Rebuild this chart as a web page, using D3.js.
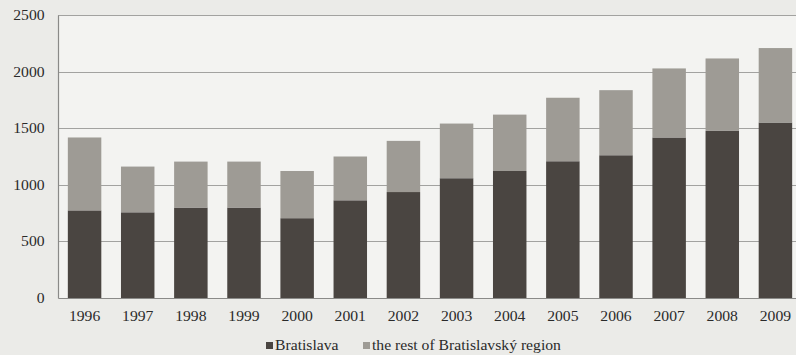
<!DOCTYPE html>
<html>
<head>
<meta charset="utf-8">
<script src="https://cdn.jsdelivr.net/npm/d3@7/dist/d3.min.js"></script>
<style>
  html, body { margin: 0; padding: 0; background: #ebebe8; }
  svg { display: block; }
  text { font-family: "Liberation Serif", "Times New Roman", serif; fill: #2a2a2a; }
</style>
</head>
<body>
<svg id="chart" width="796" height="355"></svg>
<script>
// Housing completions by year, split between the city and the rest of the region
const years = ["1996","1997","1998","1999","2000","2001","2002","2003","2004","2005","2006","2007","2008","2009"];
const bratislava = [774, 757, 799, 799, 705, 863, 936, 1058, 1122, 1208, 1261, 1418, 1476, 1550];
const totals     = [1418, 1161, 1205, 1205, 1122, 1250, 1388, 1541, 1620, 1769, 1836, 2028, 2116, 2208];
const restOfRegion = totals.map((t, i) => t - bratislava[i]);
const seriesNames = ["Bratislava", "the rest of Bratislavský region"];
const yTicks = [0, 500, 1000, 1500, 2000, 2500];

const colors = ["#4a4541", "#9e9b95"];
const sx = 1.12;               // horizontal stretch of the serif lettering
const fontSize = 14;

const svg = d3.select("#chart");
const margin = { left: 58, top: 15, bottom: 298, right: 802 };

const x = d3.scaleBand()
  .domain(years)
  .range([margin.left, margin.right])
  .paddingInner(0.37)
  .paddingOuter(0.185);

const y = d3.scaleLinear()
  .domain([0, 2500])
  .range([margin.bottom, margin.top]);

// plot background
svg.append("rect")
  .attr("x", margin.left)
  .attr("y", margin.top)
  .attr("width", 796 - margin.left)
  .attr("height", margin.bottom - margin.top)
  .attr("fill", "#f3f3f1");

// horizontal gridlines
svg.append("g")
  .selectAll("line")
  .data(yTicks.filter(d => d > 0))
  .join("line")
  .attr("x1", margin.left)
  .attr("x2", 796)
  .attr("y1", d => Math.round(y(d)) + 0.5)
  .attr("y2", d => Math.round(y(d)) + 0.5)
  .attr("stroke", "#a2a2a0")
  .attr("stroke-width", 1.2);

// stacked bars
const rows = years.map((yr, i) => ({ year: yr, Bratislava: bratislava[i], rest: restOfRegion[i] }));
const stacked = d3.stack().keys(["Bratislava", "rest"])(rows);

svg.append("g")
  .selectAll("g")
  .data(stacked)
  .join("g")
  .attr("fill", (d, i) => colors[i])
  .selectAll("rect")
  .data(d => d)
  .join("rect")
  .attr("x", d => x(d.data.year))
  .attr("width", x.bandwidth())
  .attr("y", d => y(d[1]))
  .attr("height", d => y(d[0]) - y(d[1]));

// y axis
const yAxis = svg.append("g")
  .attr("transform", `translate(${margin.left},0)`)
  .call(d3.axisLeft(y).tickValues(yTicks).tickFormat(d3.format("d")).tickSize(0).tickPadding(12));
yAxis.select(".domain").attr("stroke", "#8a8a88").attr("stroke-width", 1.2);
yAxis.selectAll("text")
  .attr("font-size", fontSize)
  .attr("font-family", "Liberation Serif")
  .attr("fill", "#2a2a2a")
  .attr("transform", `scale(${sx},1)`);

// x axis
const xAxis = svg.append("g")
  .attr("transform", `translate(0,${margin.bottom})`)
  .call(d3.axisBottom(x).tickSize(0).tickPadding(13));
xAxis.select(".domain").attr("stroke", "#8a8a88").attr("stroke-width", 1.2);
xAxis.selectAll(".tick text")
  .attr("font-size", fontSize)
  .attr("font-family", "Liberation Serif")
  .attr("fill", "#2a2a2a");
// stretch each label around its own tick position
xAxis.selectAll(".tick").each(function () {
  const g = d3.select(this);
  const m = /translate\(([-\d.]+),/.exec(g.attr("transform"));
  const cx = +m[1];
  g.attr("transform", `scale(${sx},1) translate(${cx / sx},0)`);
});

// legend
const legend = svg.append("g").attr("transform", "translate(0,350)");
const legendItems = [
  { x: 266, label: seriesNames[0], color: colors[0] },
  { x: 363, label: seriesNames[1], color: colors[1] }
];
legendItems.forEach(it => {
  legend.append("rect")
    .attr("x", it.x)
    .attr("y", -8)
    .attr("width", 7)
    .attr("height", 7)
    .attr("fill", it.color);
  legend.append("text")
    .attr("transform", `translate(${it.x + 9},0) scale(${sx},1)`)
    .attr("font-size", fontSize)
    .text(it.label);
});
</script>
</body>
</html>
